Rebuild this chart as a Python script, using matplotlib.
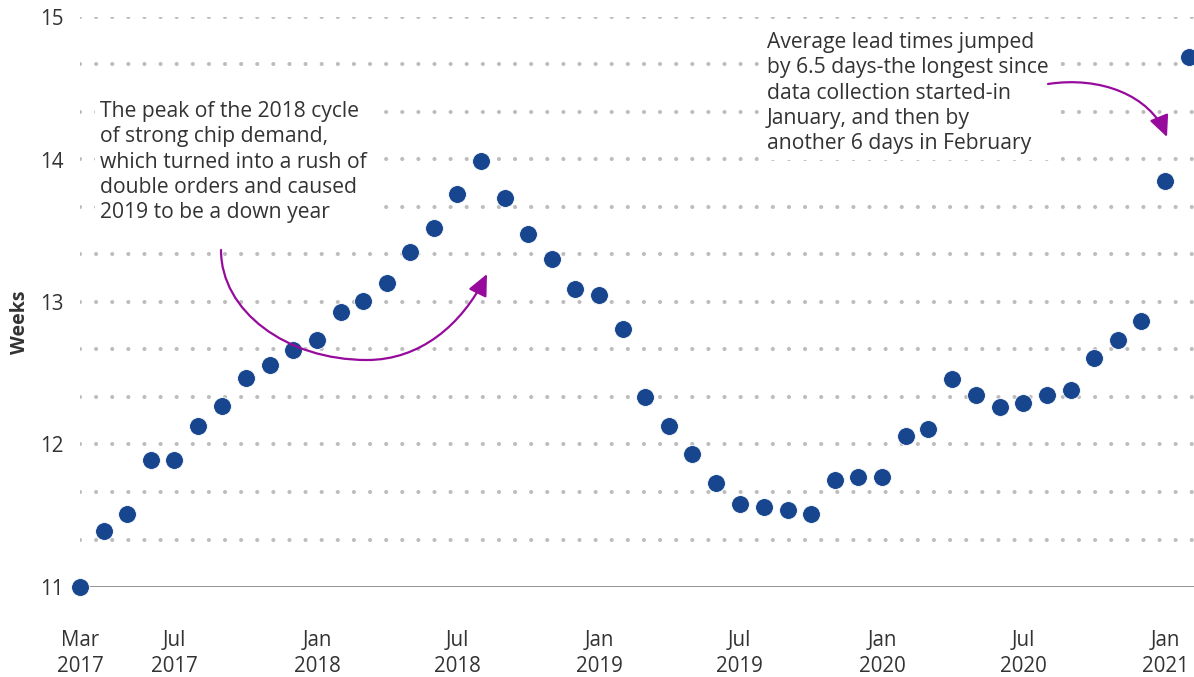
import numpy as np
import pandas as pd
import matplotlib
matplotlib.use("Agg")
import matplotlib.pyplot as plt
from matplotlib.path import Path
from matplotlib.patches import FancyArrowPatch
from matplotlib.transforms import Affine2D, IdentityTransform

plt.rcParams['font.family'] = ['Open Sans', 'DejaVu Sans']
plt.rcParams['lines.scale_dashes'] = False

# ---- data ----
months = pd.date_range("2017-03-01", "2021-02-01", freq="MS")
lead_weeks = [
    11.00, 11.39, 11.51, 11.89, 11.89, 12.13, 12.27, 12.47, 12.56, 12.66,
    12.73, 12.93, 13.01, 13.13, 13.35, 13.52, 13.76, 13.99, 13.73, 13.48, 13.30, 13.09,
    13.05, 12.81, 12.33, 12.13, 11.93, 11.73, 11.58, 11.56, 11.54, 11.51, 11.75, 11.77,
    11.77, 12.06, 12.11, 12.46, 12.35, 12.26, 12.29, 12.35, 12.38, 12.61, 12.73, 12.87,
    13.85, 14.72,
]
tick_dates = pd.to_datetime(["2017-03-01", "2017-07-01", "2018-01-01", "2018-07-01",
                             "2019-01-01", "2019-07-01", "2020-01-01", "2020-07-01",
                             "2021-01-01"])
tick_labels = ["Mar\n2017", "Jul\n2017", "Jan\n2018", "Jul\n2018", "Jan\n2019",
               "Jul\n2019", "Jan\n2020", "Jul\n2020", "Jan\n2021"]
y_ticks = [11, 12, 13, 14, 15]
ylabel = "Weeks"
note_left = ("The peak of the 2018 cycle\nof strong chip demand,\nwhich turned into a rush of\n"
             "double orders and caused\n2019 to be a down year")
note_right = ("Average lead times jumped\nby 6.5 days-the longest since\ndata collection started-in\n"
              "January, and then by\nanother 6 days in February")

W, H = 1194, 677
fig = plt.figure(figsize=(W / 100, H / 100), dpi=100)
ax = fig.add_axes([80 / W, (H - 587) / H, (W - 80) / W, (587 - 17) / H])

dot_color = "#17468f"
grid_color = "#bdbdbd"
text_color = "#333333"
purple = "#960a9c"

# grid (dotted) every 1/3 week
for g in np.arange(11 + 1 / 3, 15.001, 1 / 3):
    ax.axhline(g, color=grid_color, lw=3.0, linestyle=(0, (0.001, 11.6)),
               dash_capstyle='round', zorder=1)
ax.axhline(11, color="#808080", lw=1.2, zorder=1)

ax.scatter(months, lead_weeks, s=165, color=dot_color, edgecolors='white',
           linewidths=0.6, zorder=3, clip_on=False)

ax.set_xlim(pd.Timestamp("2017-03-01"), pd.Timestamp("2021-02-07"))
ax.set_ylim(11, 15)
ax.set_yticks(y_ticks)
ax.set_yticklabels([str(v) for v in y_ticks])
ax.set_xticks(tick_dates)
ax.set_xticklabels(tick_labels, linespacing=1.3)
ax.tick_params(axis='both', length=0, labelsize=14.8, colors=text_color)
ax.tick_params(axis='y', pad=12)
ax.tick_params(axis='x', pad=31)
for s in ax.spines.values():
    s.set_visible(False)

fig.text(20 / W, 1 - 322 / H, ylabel, rotation=90, fontsize=14, fontweight='bold',
         color=text_color, ha='center', va='center')

fig.text(100 / W, 1 - 101 / H, note_left, fontsize=15.2, color=text_color, ha='left',
         va='top', linespacing=1.27, zorder=4,
         bbox=dict(facecolor='white', edgecolor='none', pad=4))
fig.text(767 / W, 1 - 32 / H, note_right, fontsize=15.2, color=text_color, ha='left',
         va='top', linespacing=1.27, zorder=4,
         bbox=dict(facecolor='white', edgecolor='none', pad=4))

# curved arrows (annotation, pixel coordinates of the image)
pix = Affine2D().scale(1, -1).translate(0, H)
left_path = Path([(221, 250), (221, 311), (286, 360), (367, 360),
                  (420, 360), (462, 325), (487, 274)],
                 [Path.MOVETO, Path.CURVE4, Path.CURVE4, Path.CURVE4,
                  Path.CURVE4, Path.CURVE4, Path.CURVE4])
right_path = Path([(1048, 84), (1100, 76), (1150, 95), (1167, 137)],
                  [Path.MOVETO, Path.CURVE4, Path.CURVE4, Path.CURVE4])
for p in (left_path, right_path):
    arr = FancyArrowPatch(path=pix.transform_path(p),
                          arrowstyle="-|>,head_length=0.65,head_width=0.3",
                          mutation_scale=20, color=purple, lw=1.6, zorder=5)
    arr.set_transform(IdentityTransform())
    fig.add_artist(arr)

fig.savefig("out.png", dpi=100)
